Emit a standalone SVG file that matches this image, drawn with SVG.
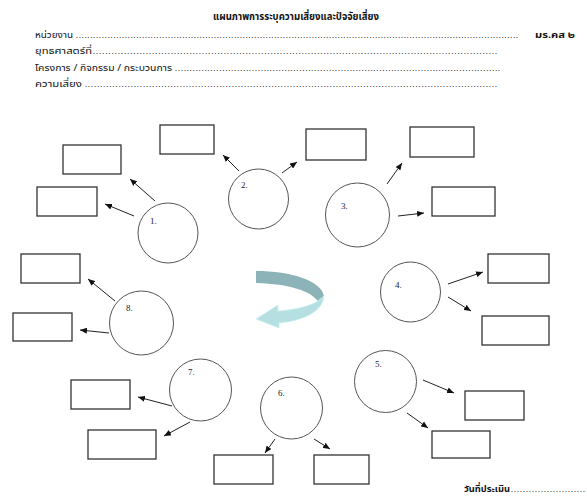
<svg xmlns="http://www.w3.org/2000/svg" width="587" height="497" viewBox="0 0 587 497">
<style>
.t{font-family:"Noto Sans Thai","Tahoma","Loma","Garuda","DejaVu Sans","Liberation Sans",sans-serif;fill:#111}
.h{font-size:10.5px;font-weight:bold}
.l{font-size:9.5px}
.d{font-size:7px}
.n{font-family:"Liberation Serif",serif;font-size:9px;fill:#223}
.c{fill:#fff;stroke:#555;stroke-width:1}
.r{fill:#fff;stroke:#333;stroke-width:1.3}
.a{stroke:#222;stroke-width:1;fill:none;marker-end:url(#ah)}
</style>
<defs>
<marker id="ah" markerUnits="userSpaceOnUse" markerWidth="8" markerHeight="6" refX="7" refY="3" orient="auto">
<path d="M0,0 L7,3 L0,6 Z" fill="#111"/>
</marker>
</defs>
<rect width="587" height="497" fill="#fff"/>
<g id="header">
<text class="t h" x="213" y="20" textLength="166" lengthAdjust="spacingAndGlyphs">แผนภาพการระบุความเสี่ยงและปัจจัยเสี่ยง</text>
<text class="t l" x="35" y="38" textLength="38" lengthAdjust="spacingAndGlyphs">หน่วยงาน</text>
<text class="t d" x="76" y="38" textLength="442" lengthAdjust="spacing">..........................................................................................................................................................</text>
<text class="t l" x="535" y="38" font-weight="bold" textLength="40" lengthAdjust="spacingAndGlyphs">มร.คส ๒</text>
<text class="t l" x="35" y="54" textLength="57" lengthAdjust="spacingAndGlyphs">ยุทธศาสตร์ที่</text>
<text class="t d" x="93" y="54" textLength="404" lengthAdjust="spacing">..................................................................................................................................</text>
<text class="t l" x="35" y="71" textLength="137" lengthAdjust="spacingAndGlyphs">โครงการ / กิจกรรม / กระบวนการ</text>
<text class="t d" x="175" y="71" textLength="325" lengthAdjust="spacing">..............................................................................................................</text>
<text class="t l" x="35" y="87" textLength="47" lengthAdjust="spacingAndGlyphs">ความเสี่ยง</text>
<text class="t d" x="85" y="87" textLength="412" lengthAdjust="spacing">.......................................................................................................................................</text>
</g>
<g id="cycle-arrow">
<path d="M256,271 C292,271 321,281 324,296 L318,301 C310,291 290,284 256,283 Z" fill="#8cb3b7"/>
<path d="M324,296 C323,312 302,321 279,323 L279,328 L256,319 L278,305 L278,311 C296,310 312,305 318,301 Z" fill="#b6dfe2" stroke="#cdeff1" stroke-width="0.8"/>
</g>
<g id="connectors">
<line class="a" x1="155" y1="201" x2="130" y2="179"/>
<line class="a" x1="134" y1="216" x2="105" y2="204"/>
<line class="a" x1="239" y1="171" x2="223" y2="155"/>
<line class="a" x1="282" y1="173" x2="297" y2="162"/>
<line class="a" x1="387" y1="184" x2="402" y2="163"/>
<line class="a" x1="398" y1="216" x2="424" y2="213"/>
<line class="a" x1="448" y1="284" x2="483" y2="272"/>
<line class="a" x1="448" y1="297" x2="471" y2="311"/>
<line class="a" x1="423" y1="380" x2="454" y2="393"/>
<line class="a" x1="407" y1="413" x2="428" y2="428"/>
<line class="a" x1="314" y1="439" x2="330" y2="449"/>
<line class="a" x1="275" y1="439" x2="265" y2="453"/>
<line class="a" x1="172" y1="406" x2="138" y2="397"/>
<line class="a" x1="190" y1="422" x2="164" y2="436"/>
<line class="a" x1="115" y1="301" x2="88" y2="279"/>
<line class="a" x1="109" y1="333" x2="80" y2="330"/>
</g>
<g id="node1"><circle class="c" cx="168" cy="233" r="30"/><text class="n" x="150" y="224">1.</text></g>
<g id="node2"><circle class="c" cx="258.5" cy="199" r="30"/><text class="n" x="241" y="188">2.</text></g>
<g id="node3"><circle class="c" cx="357.5" cy="215" r="32"/><text class="n" x="341" y="209">3.</text></g>
<g id="node4"><circle class="c" cx="410.5" cy="292" r="30"/><text class="n" x="395" y="288">4.</text></g>
<g id="node5"><circle class="c" cx="385.5" cy="381.5" r="31"/><text class="n" x="375" y="367">5.</text></g>
<g id="node6"><circle class="c" cx="291.5" cy="408" r="31"/><text class="n" x="278" y="396">6.</text></g>
<g id="node7"><circle class="c" cx="200.5" cy="390" r="31"/><text class="n" x="188" y="375">7.</text></g>
<g id="node8"><circle class="c" cx="141.5" cy="323" r="32"/><text class="n" x="126" y="311">8.</text></g>
<g id="box1a"><rect class="r" x="63" y="145" width="58" height="29"/></g>
<g id="box1b"><rect class="r" x="37" y="187" width="60" height="29"/></g>
<g id="box2a"><rect class="r" x="160" y="125" width="54" height="29"/></g>
<g id="box2b"><rect class="r" x="306" y="129" width="60" height="31"/></g>
<g id="box3a"><rect class="r" x="410" y="127" width="64" height="30"/></g>
<g id="box3b"><rect class="r" x="432" y="187" width="63" height="29"/></g>
<g id="box4a"><rect class="r" x="488" y="254" width="61" height="29"/></g>
<g id="box4b"><rect class="r" x="482" y="316" width="67" height="29"/></g>
<g id="box5a"><rect class="r" x="465" y="391" width="59" height="29"/></g>
<g id="box5b"><rect class="r" x="432" y="431" width="58" height="27"/></g>
<g id="box6a"><rect class="r" x="314" y="455" width="55" height="29"/></g>
<g id="box6b"><rect class="r" x="214" y="455" width="59" height="29"/></g>
<g id="box7a"><rect class="r" x="71" y="380" width="59" height="29"/></g>
<g id="box7b"><rect class="r" x="88" y="430" width="68" height="29"/></g>
<g id="box8a"><rect class="r" x="21" y="254" width="59" height="29"/></g>
<g id="box8b"><rect class="r" x="13" y="313" width="59" height="28"/></g>
<g id="footer">
<text class="t l" x="464" y="492" font-weight="bold" textLength="46" lengthAdjust="spacingAndGlyphs">วันที่ประเมิน</text>
<text class="t d" x="511" y="492" textLength="74" lengthAdjust="spacing">.........................</text>
</g>
</svg>
